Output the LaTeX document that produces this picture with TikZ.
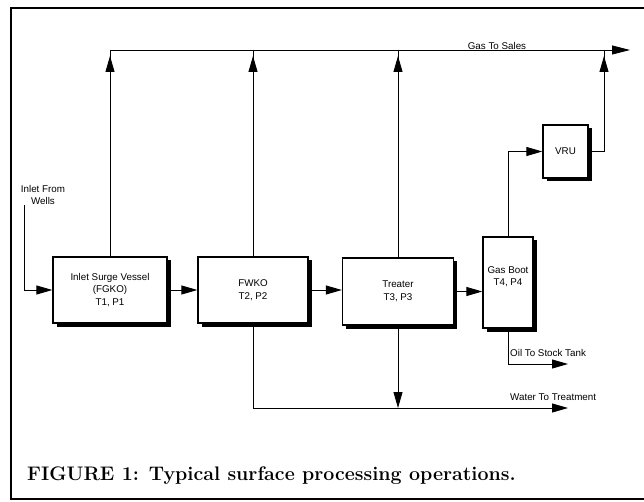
\documentclass[tikz,border=0pt]{standalone}
\usepackage{fontspec}
\setsansfont{Liberation Sans}
\usetikzlibrary{arrows.meta, positioning, calc, shadows}

\begin{document}
\begin{tikzpicture}[x=1pt, y=-1pt, >={Triangle[length=16pt, width=9pt]},
        vessel/.style={draw, line width=1.3pt, fill=white, align=center, inner sep=2pt,
            font=\sffamily\fontsize{9.8}{12.5}\selectfont,
            drop shadow={shadow xshift=3.5pt, shadow yshift=-3.5pt, opacity=1, fill=black}},
        tag/.style={font=\sffamily\fontsize{9.8}{12.5}\selectfont, inner sep=0pt},
        pipe/.style={line width=0.9pt},
        riser/.style={pipe, postaction={draw, ->, shorten >=6pt}}]
        \useasboundingbox (0,0) rectangle (644,502);

        % Frame
        \draw [line width=1.4pt] (644,8) -- (11,8) -- (11,499) -- (644,499);

        % Vessels
        \node [vessel, minimum width=114pt, minimum height=66pt] (inlet) at (110,290) {Inlet Surge Vessel\\(FGKO)\\T1, P1};
        \node [vessel, minimum width=110pt, minimum height=66pt] (fwko) at (253,290) {FWKO\\T2, P2};
        \node [vessel, minimum width=111pt, minimum height=67pt] (treater) at (398,291.5) {Treater\\T3, P3};
        \node [vessel, minimum width=50pt, minimum height=91pt] (gasboot) at (508,282.5) {Gas Boot\\T4, P4\\\mbox{}};
        \node [vessel, minimum width=45pt, minimum height=53pt] (vru) at (565.5,151.5) {VRU};

        % Stream labels
        \node [tag, align=center] (wells) at (43,195) {Inlet From\\Wells};
        \node [tag, anchor=base] (sales) at (497,50) {Gas To Sales};
        \node [tag, anchor=base west] (oil) at (510,356) {Oil To Stock Tank};
        \node [tag, anchor=base west] (water) at (510,400) {Water To Treatment};

        % Line ends
        \coordinate (wellsin) at (24,205);
        \coordinate (gasL) at (110,50);
        \coordinate (gasR) at (630,50);
        \coordinate (vruup) at (604,50);
        \coordinate (oilR) at (568,364);
        \coordinate (waterR) at (568,408);

        % Gas header and risers
        \draw [pipe, ->, >={Triangle[length=18pt, width=9pt]}] (gasL) -- (gasR);
        \foreach \v in {inlet, fwko, treater}
            \draw [riser] (\v.north) -- (\v.north |- gasL);
        \draw [riser] (vru.east) -| (vruup);
        \draw [pipe, ->] (gasboot.north) |- (vru.west);

        % Liquid train
        \draw [pipe, ->] (wellsin) |- (inlet.west);
        \draw [pipe, ->] (inlet.east) -- (fwko.west);
        \draw [pipe, ->] (fwko.east) -- (fwko.east -| treater.west);
        \draw [pipe, ->] (treater.east) -- (treater.east -| gasboot.west);

        % Oil and water out
        \draw [pipe, ->] (fwko.south) |- (waterR);
        \draw [pipe, ->] (treater.south) -- (treater.south |- waterR);
        \draw [pipe, ->] (gasboot.south) |- (oilR);

        % Caption
        \node [anchor=base west, inner sep=0pt, font=\bfseries\fontsize{19.6}{23}\selectfont] (caption) at (27,480) {FIGURE 1: Typical surface processing operations.};
    \end{tikzpicture}
\end{document}
